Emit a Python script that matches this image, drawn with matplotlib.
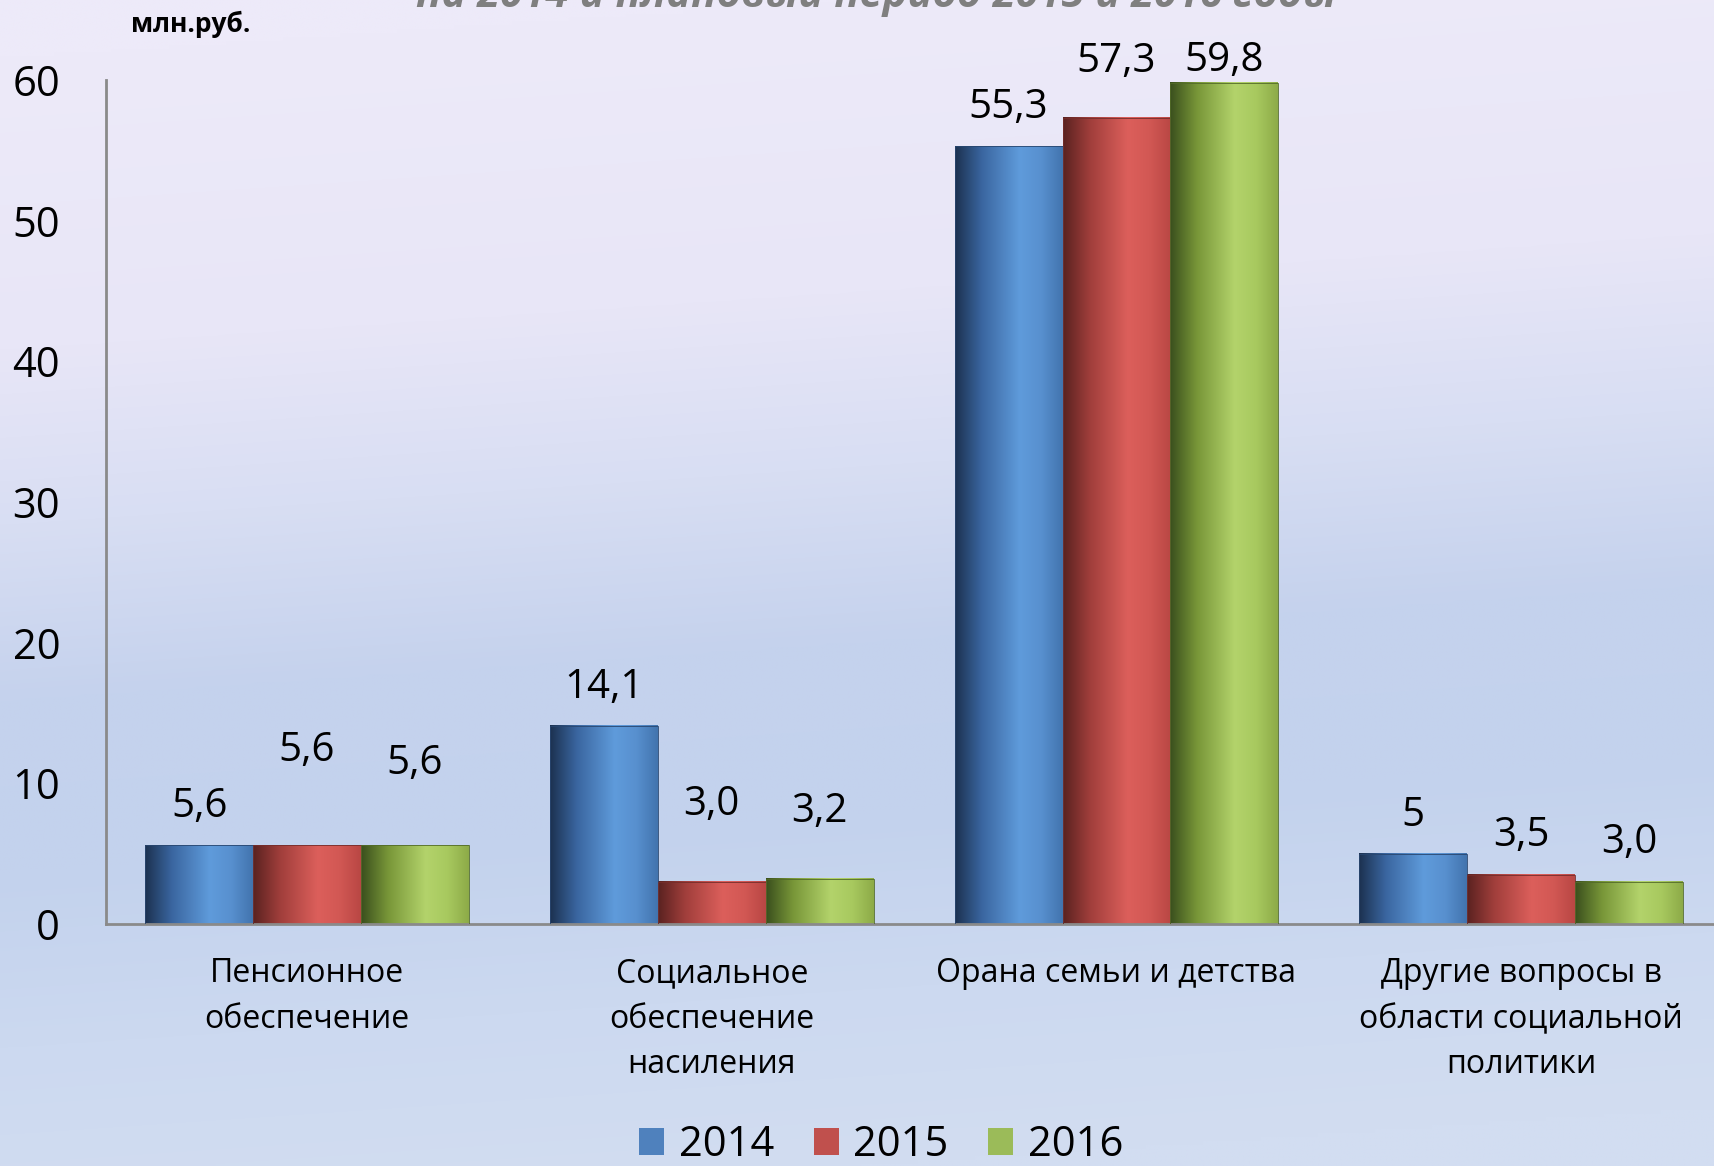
import numpy as np
import matplotlib
matplotlib.use('Agg')
import matplotlib.pyplot as plt
from matplotlib.colors import LinearSegmentedColormap
from matplotlib.patches import Patch

plt.rcParams['font.family'] = ['Open Sans', 'DejaVu Sans']

# data (млн.руб.)
categories = ['Пенсионное\nобеспечение',
              'Социальное\nобеспечение\nнасиления',
              'Орана семьи и детства',
              'Другие вопросы в\nобласти социальной\nполитики']
years = ['2014', '2015', '2016']
values_2014 = [5.6, 14.1, 55.3, 5.0]
values_2015 = [5.6, 3.0, 57.3, 3.5]
values_2016 = [5.6, 3.2, 59.8, 3.0]
labels_2014 = ['5,6', '14,1', '55,3', '5']
labels_2015 = ['5,6', '3,0', '57,3', '3,5']
labels_2016 = ['5,6', '3,2', '59,8', '3,0']

# how far above the bar each value label sits (in value units)
lift_2014 = [2.7, 2.7, 2.7, 2.7]
lift_2015 = [6.7, 5.5, 4.0, 2.8]
lift_2016 = [5.8, 4.8, 1.6, 2.8]

# cylinder-like shading for the bars
cmap_blue = LinearSegmentedColormap.from_list('b', [(0, '#1c3150'), (0.25, '#3a66a0'), (0.6, '#5f9bdb'), (0.8, '#5890cf'), (1, '#4274ae')])
cmap_red = LinearSegmentedColormap.from_list('r', [(0, '#5a2220'), (0.25, '#a03e3b'), (0.6, '#dc5f5b'), (0.8, '#d25854'), (1, '#b94744')])
cmap_green = LinearSegmentedColormap.from_list('g', [(0, '#3a4f1d'), (0.25, '#789638'), (0.6, '#b3d36b'), (0.8, '#a8c95f'), (1, '#8dab48')])
legend_colors = ['#4f81bd', '#c0504d', '#9bbb59']

W, H = 1715, 1166
fig = plt.figure(figsize=(W / 100, H / 100), dpi=100)

# background gradient (lavender on top, pale blue below)
yy, xx = np.mgrid[0:1:300j, 0:1:300j]
t = yy + 0.10 * (xx - 0.5)
stops = [0.0, 0.25, 0.40, 0.55, 0.70, 0.85, 1.0]
r = np.interp(t, stops, [237, 232, 216, 197, 195, 204, 210])
g = np.interp(t, stops, [234, 230, 222, 210, 210, 217, 221])
b = np.interp(t, stops, [249, 247, 243, 237, 237, 240, 241])
bg_img = np.dstack([r, g, b]) / 255.0
bg = fig.add_axes([0, 0, 1, 1])
bg.imshow(bg_img, aspect='auto', extent=(0, 1, 0, 1), interpolation='bilinear')
bg.axis('off')

ax = fig.add_axes([106 / W, 1 - 924 / H, 1 - 106 / W, (924 - 80) / H])
ax.set_facecolor('none')

x = np.arange(len(categories))
width = 0.8 / 3
grad = np.linspace(0, 1, 256).reshape(1, -1)

series = [(values_2014, labels_2014, lift_2014, cmap_blue),
          (values_2015, labels_2015, lift_2015, cmap_red),
          (values_2016, labels_2016, lift_2016, cmap_green)]

for i, (vals, labs, lift, cmap) in enumerate(series):
    pos = x + (i - 1) * width
    bars = ax.bar(pos, vals, width, color='none', edgecolor=cmap(0.1), linewidth=0.6, zorder=3)
    for bar in bars:
        x0, y0 = bar.get_x(), bar.get_y()
        ax.imshow(grad, cmap=cmap, aspect='auto', interpolation='bicubic',
                  extent=(x0, x0 + bar.get_width(), y0, y0 + bar.get_height()), zorder=2)
    for p, v, lab, d in zip(pos, vals, labs, lift):
        ax.text(p, v + d, lab, ha='center', va='center', fontsize=29, color='black', zorder=4)

ax.set_xlim(-0.497, 3.479)
ax.set_ylim(0, 60)
ax.set_yticks([0, 10, 20, 30, 40, 50, 60])
ax.set_xticks(x)
ax.set_xticklabels(categories, fontsize=23, linespacing=1.5)
ax.tick_params(axis='y', length=0, pad=33, labelsize=30)
ax.tick_params(axis='x', length=0, pad=24)
for s in ['top', 'right']:
    ax.spines[s].set_visible(False)
for s in ['left', 'bottom']:
    ax.spines[s].set_color('#8a8a8a')
    ax.spines[s].set_linewidth(2)

# title is cut off at the top in the original slide
fig.text(876 / W, 1 - 7 / H, 'на 2014 и плановый период 2015 и 2016 годы', ha='center', va='baseline',
         fontsize=30, fontweight='bold', fontstyle='italic', color='#7f7f7f')
fig.text(131 / W, 1 - 24 / H, 'млн.руб.', ha='left', va='center', fontsize=19, fontweight='bold')

handles = [Patch(facecolor=c, edgecolor='none') for c in legend_colors]
fig.legend(handles, years, loc='center', bbox_to_anchor=(881 / W, 1 - 1145 / H), ncol=3, frameon=False,
           fontsize=30, handlelength=0.6, handleheight=0.6, handletextpad=0.35, columnspacing=0.95)

fig.savefig('out.png', dpi=100)
